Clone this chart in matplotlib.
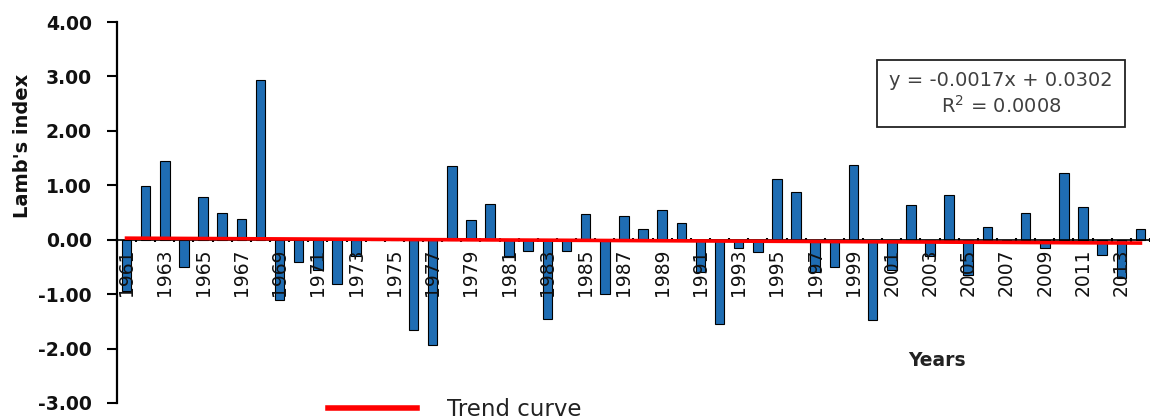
import matplotlib.pyplot as plt
import numpy as np
from matplotlib.patches import Rectangle

plt.rcParams['font.family'] = ['DejaVu Sans']

years = np.arange(1961, 2015)
lamb_index = [
    -0.95, 0.99, 1.45, -0.50, 0.78, 0.49, 0.38, 2.93, -1.10, -0.41,
    -0.55, -0.81, -0.30, 0.00, 0.00, -1.65, -1.94, 1.36, 0.37, 0.66,
    -0.30, -0.21, -1.45, -0.20, 0.48, -0.99, 0.43, 0.20, 0.55, 0.31,
    -0.60, -1.54, -0.15, -0.23, 1.12, 0.87, -0.60, -0.50, 1.38, -1.48,
    -0.55, 0.64, -0.30, 0.83, -0.65, 0.23, -0.05, 0.49, -0.15, 1.23,
    0.60, -0.29, -0.70, 0.20,
]
tick_years = years[::2]
y_ticks = [-3, -2, -1, 0, 1, 2, 3, 4]

# trend as printed on the chart (x = 1..n)
slope = -0.0017
intercept = 0.0302
equation = 'y = -0.0017x + 0.0302\nR$^2$ = 0.0008'

fig = plt.figure(figsize=(11.5, 4.2), dpi=100)
ax = fig.add_axes([0.1017, 0.0405, 0.8983, 0.9071])

ax.bar(years, lamb_index, width=0.5, color='#1f6db3', edgecolor='black',
       linewidth=0.8, zorder=2)
idx = np.arange(1, len(years) + 1)
trend_line, = ax.plot(years, slope * idx + intercept, color='#ff0000',
                      linewidth=2.6, zorder=3, label='Trend curve')

ax.set_xlim(1960.59, 2014.1)
ax.set_ylim(-3, 4)
ax.set_yticks(y_ticks)
ax.set_yticklabels([f'{v:.2f}' for v in y_ticks], fontweight='bold')
ax.set_xticks(tick_years)
ax.set_xticklabels([str(y) for y in tick_years])
ax.set_xticks(np.arange(1960.5, 2014.6, 1), minor=True)
ax.tick_params(axis='x', which='major', length=0, pad=6, labelrotation=90,
               labelsize=13.5, labelcolor='#111111')
ax.tick_params(axis='x', which='minor', length=3, direction='inout',
               width=1.5)
ax.tick_params(axis='y', length=7, width=1.5, direction='out', pad=11,
               labelsize=13.5, labelcolor='#111111')
# labels sit on top of the bars, as in the original
ax.xaxis.set_zorder(2.5)

ax.spines['top'].set_visible(False)
ax.spines['right'].set_visible(False)
ax.spines['bottom'].set_position(('data', 0))
ax.spines['left'].set_linewidth(1.6)
ax.spines['bottom'].set_linewidth(1.2)

fig.text(23 / 1150, 1 - 146 / 420, "Lamb's index", fontsize=14,
         fontweight='bold', rotation=90, ha='center', va='center',
         color='#111111')
fig.text(937 / 1150, 1 - 360 / 420, 'Years', fontsize=13.5,
         fontweight='bold', ha='center', va='center', color='#222222')

fig.patches.append(Rectangle((877 / 1150, 1 - 127 / 420), 248 / 1150,
                             67 / 420, transform=fig.transFigure,
                             facecolor='white', edgecolor='#222222',
                             linewidth=1.3, zorder=5))
fig.text(1001 / 1150, 1 - 94 / 420, equation, fontsize=14, ha='center',
         va='center', color='#404040', linespacing=1.25, zorder=6)

fig.legend(handles=[trend_line], loc='center left', frameon=False,
           bbox_to_anchor=(328 / 1150, 1 - 410 / 420), borderpad=0,
           borderaxespad=0, handlelength=3.9, handletextpad=1.3,
           fontsize=16.5, labelcolor='#222222')
fig.legends[0].get_lines()[0].set_linewidth(4)

fig.savefig('out.png', dpi=100)
